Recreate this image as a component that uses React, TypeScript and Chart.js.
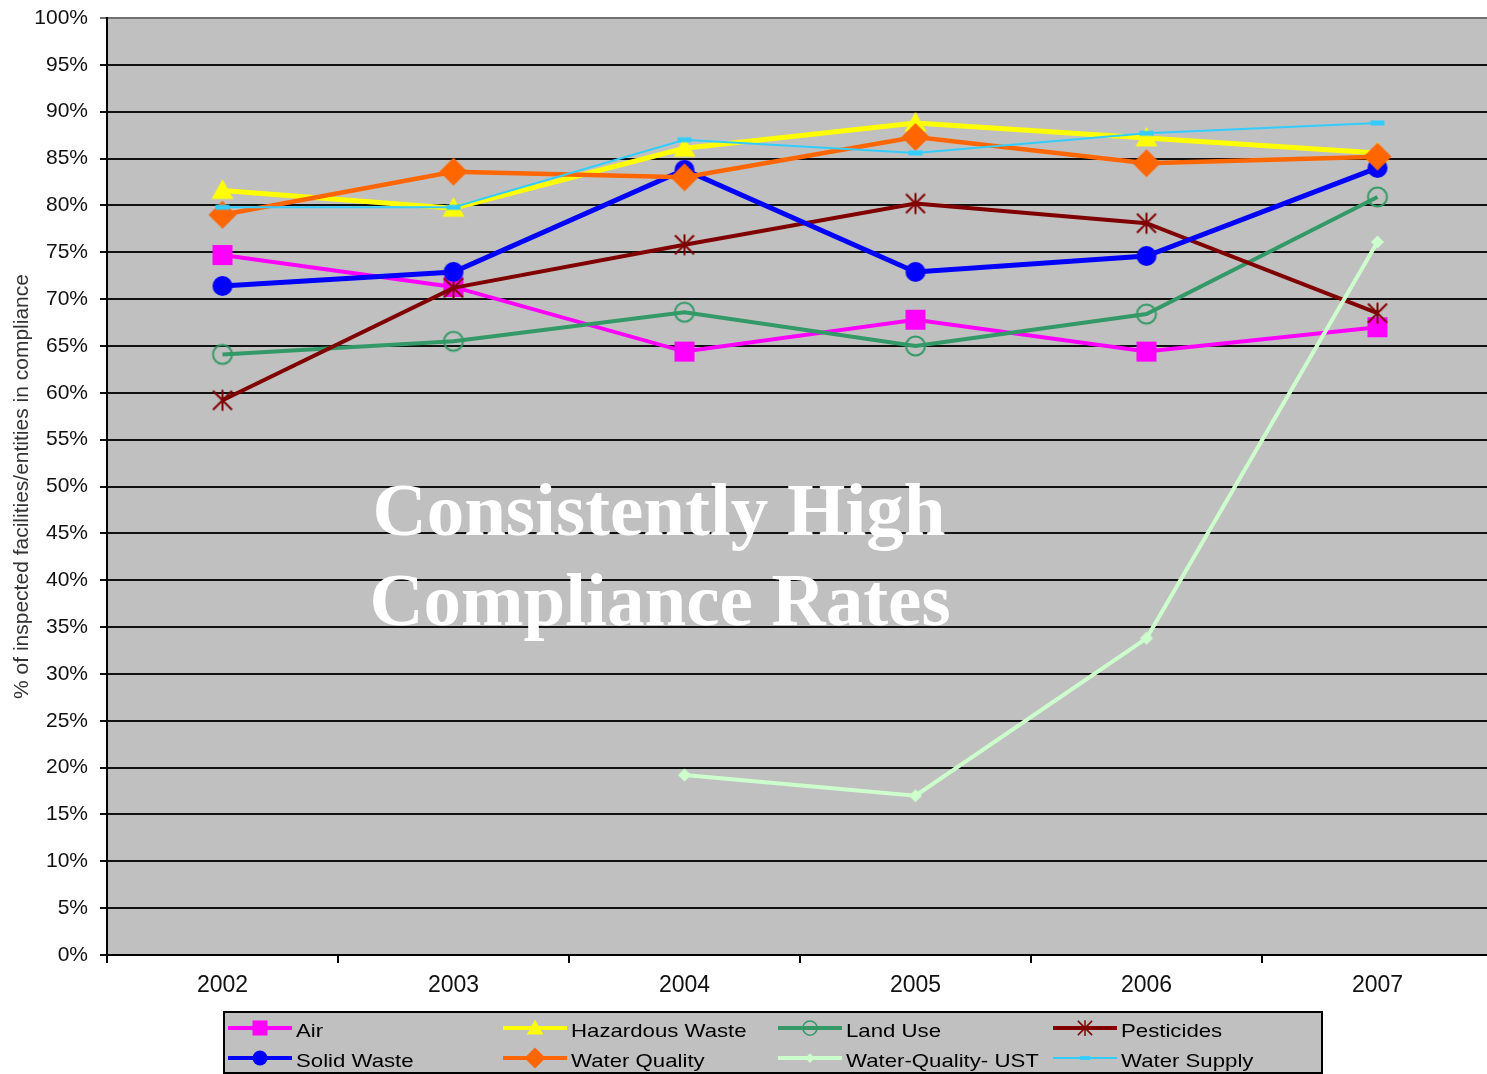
import React, { useEffect, useRef } from "react";
import { Chart, registerables } from "chart.js";

Chart.register(...registerables);

// ---------- data ----------
const years = ["2002", "2003", "2004", "2005", "2006", "2007"];

const air = [74.7, 71.3, 64.4, 67.8, 64.4, 67.0];
const hazardousWaste = [81.6, 79.7, 86.1, 88.8, 87.2, 85.6];
const landUse = [64.1, 65.5, 68.6, 65.0, 68.4, 80.9];
const pesticides = [59.2, 71.2, 75.8, 80.2, 78.1, 68.5];
const solidWaste = [71.4, 72.9, 83.8, 72.9, 74.6, 84.0];
const waterQuality = [79.0, 83.6, 83.0, 87.3, 84.5, 85.2];
const waterQualityUST = [null, null, 19.2, 17.0, 33.8, 76.1];
const waterSupply = [79.8, 79.8, 87.0, 85.6, 87.7, 88.8];

const seriesNames = [
  "Air",
  "Hazardous Waste",
  "Land Use",
  "Pesticides",
  "Solid Waste",
  "Water Quality",
  "Water-Quality- UST",
  "Water Supply",
];
const seriesValues = [air, hazardousWaste, landUse, pesticides, solidWaste, waterQuality, waterQualityUST, waterSupply];
const seriesColors = ["#FF00FF", "#FFFF00", "#339966", "#800000", "#0000FF", "#FF6600", "#CCFFCC", "#33CCFF"];
const seriesMarkers = ["square", "triangle", "openCircle", "asterisk", "circle", "diamond", "smallDiamond", "dash"];
const seriesLineWidths = [4, 5, 4, 4, 5, 4.5, 4, 2];

const yAxisTitle = "% of inspected facilities/entities in compliance";
const overlayLines = ["Consistently High", "Compliance Rates"];

// ---------- marker images ----------
function makeMarker(kind: string, color: string, k = 1): HTMLCanvasElement {
  const S = Math.round((32 * k) / 2) * 2;
  const c = document.createElement("canvas");
  c.width = S;
  c.height = S;
  const g = c.getContext("2d")!;
  g.translate(S / 2, S / 2);
  g.scale(k, k);
  g.fillStyle = color;
  g.strokeStyle = color;
  switch (kind) {
    case "square":
      g.fillRect(-10, -10, 20, 20);
      break;
    case "circle":
      g.beginPath();
      g.arc(0, 0, 10, 0, Math.PI * 2);
      g.fill();
      break;
    case "triangle":
      g.beginPath();
      g.moveTo(0, -11);
      g.lineTo(11, 8.5);
      g.lineTo(-11, 8.5);
      g.closePath();
      g.fill();
      break;
    case "diamond":
      g.beginPath();
      g.moveTo(0, -14);
      g.lineTo(14, 0);
      g.lineTo(0, 14);
      g.lineTo(-14, 0);
      g.closePath();
      g.fill();
      break;
    case "openCircle":
      g.lineWidth = 2;
      g.beginPath();
      g.arc(0, 0, 9.5, 0, Math.PI * 2);
      g.stroke();
      break;
    case "asterisk":
      g.lineWidth = 2;
      g.beginPath();
      g.moveTo(0, -10.5);
      g.lineTo(0, 10.5);
      g.moveTo(-9.5, -9.5);
      g.lineTo(9.5, 9.5);
      g.moveTo(-9.5, 9.5);
      g.lineTo(9.5, -9.5);
      g.stroke();
      break;
    case "smallDiamond":
      g.beginPath();
      g.moveTo(0, -6.5);
      g.lineTo(6.5, 0);
      g.lineTo(0, 6.5);
      g.lineTo(-6.5, 0);
      g.closePath();
      g.fill();
      break;
    case "dash":
      g.fillRect(-7, -2.5, 14, 5);
      break;
  }
  return c;
}

// ---------- plugins ----------
const plotBackground = {
  id: "plotBackground",
  beforeDraw(chart: any) {
    const { ctx, chartArea } = chart;
    ctx.save();
    ctx.fillStyle = "#C0C0C0";
    ctx.fillRect(chartArea.left, chartArea.top, chartArea.right - chartArea.left, chartArea.bottom - chartArea.top);
    ctx.restore();
  },
};

const overlayText = {
  id: "overlayText",
  afterDatasetsDraw(chart: any) {
    const { ctx } = chart;
    ctx.save();
    ctx.fillStyle = "#FFFFFF";
    ctx.font = 'bold 75px "Liberation Serif", "Times New Roman", serif';
    ctx.textAlign = "center";
    ctx.textBaseline = "alphabetic";
    ctx.fillText(overlayLines[0], 659, 535);
    ctx.fillText(overlayLines[1], 660, 625);
    ctx.restore();
  },
};

const customLegend = {
  id: "customLegend",
  afterDraw(chart: any) {
    const { ctx } = chart;
    ctx.save();
    ctx.fillStyle = "#C0C0C0";
    ctx.fillRect(224, 1012, 1098, 61);
    ctx.strokeStyle = "#000";
    ctx.lineWidth = 2;
    ctx.strokeRect(224, 1012, 1098, 61);
    chart.data.datasets.forEach((ds: any, i: number) => {
      const col = i % 4;
      const row = Math.floor(i / 4);
      const x0 = 228 + col * 275;
      const ly = row === 0 ? 1028 : 1058;
      ctx.strokeStyle = ds.borderColor;
      ctx.lineWidth = Math.min(ds.borderWidth, 4);
      ctx.beginPath();
      ctx.moveTo(x0, ly);
      ctx.lineTo(x0 + 64, ly);
      ctx.stroke();
      const img = ds.legendMarker as HTMLCanvasElement;
      ctx.drawImage(img, x0 + 32 - img.width / 2, ly - img.height / 2);
      ctx.save();
      ctx.translate(x0 + 68, ly + 9);
      ctx.scale(1.2, 1);
      ctx.fillStyle = "#000";
      ctx.font = '18.5px "Liberation Sans", Arial, sans-serif';
      ctx.textBaseline = "alphabetic";
      ctx.textAlign = "left";
      ctx.fillText(ds.label, 0, 0);
      ctx.restore();
    });
    ctx.restore();
  },
};

export default function App() {
  const ref = useRef<HTMLCanvasElement>(null);

  useEffect(() => {
    const N = seriesNames.length;
    const datasets = seriesNames.map((name, i) => ({
      label: name,
      data: seriesValues[i],
      borderColor: seriesColors[i],
      backgroundColor: seriesColors[i],
      borderWidth: seriesLineWidths[i],
      pointStyle: makeMarker(seriesMarkers[i], seriesColors[i], 1),
      legendMarker: makeMarker(seriesMarkers[i], seriesColors[i], 0.75),
      pointRadius: 10,
      pointHoverRadius: 10,
      tension: 0,
      spanGaps: false,
      order: N - i,
    }));

    const chart = new Chart(ref.current!, {
      type: "line",
      data: { labels: years, datasets: datasets as any },
      options: {
        animation: false,
        responsive: false,
        maintainAspectRatio: false,
        events: [],
        layout: { autoPadding: false, padding: { top: 18, left: 0, right: 0, bottom: 0 } } as any,
        plugins: {
          legend: { display: false },
          title: { display: false },
          tooltip: { enabled: false },
        },
        scales: {
          x: {
            type: "category",
            offset: true,
            afterFit: (s: any) => {
              s.height = 119;
              s.paddingLeft = 0;
              s.paddingRight = 0;
            },
            grid: {
              display: true,
              offset: true,
              drawOnChartArea: false,
              drawTicks: true,
              tickLength: 8,
              color: "#000",
              lineWidth: 2,
            },
            border: { display: true, color: "#000", width: 2 },
            ticks: {
              color: "#111",
              padding: 9,
              font: { family: '"Liberation Sans", Arial, sans-serif', size: 23 },
            },
          },
          y: {
            min: 0,
            max: 100,
            afterFit: (s: any) => {
              s.width = 107;
              s.paddingTop = 0;
              s.paddingBottom = 0;
            },
            grid: {
              color: (c: any) => (c.tick && c.tick.value === 100 ? "#707070" : "#111"),
              lineWidth: 2,
              drawTicks: true,
              tickLength: 7,
            },
            border: { display: true, color: "#000", width: 2 },
            ticks: {
              stepSize: 5,
              color: "#111",
              padding: 12,
              font: { family: '"Liberation Sans", Arial, sans-serif', size: 21 },
              callback: (v: any) => v + "%",
            },
            title: {
              display: true,
              text: yAxisTitle,
              color: "#333",
              padding: { top: 10, bottom: 0 },
              font: { family: '"Liberation Sans", Arial, sans-serif', size: 21 },
            },
          },
        },
      },
      plugins: [plotBackground, overlayText, customLegend],
    });
    return () => chart.destroy();
  }, []);

  return (
    <div
      style={{
        position: "fixed",
        left: 0,
        top: 0,
        width: 1487,
        height: 1074,
        overflow: "hidden",
        background: "#fff",
      }}
    >
      <canvas ref={ref} width={1493} height={1074} style={{ display: "block", width: 1493, height: 1074 }} />
    </div>
  );
}
